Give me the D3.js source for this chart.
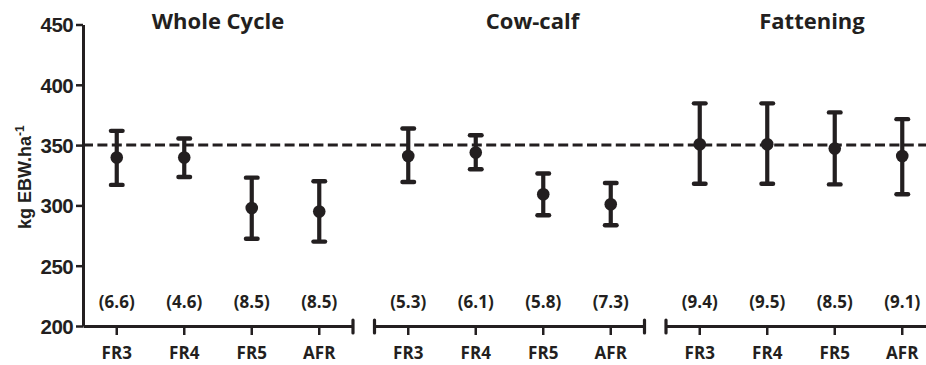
<!DOCTYPE html>
<html>
<head>
<meta charset="utf-8">
<title>kg EBW per ha by phase</title>
<style>
  body { margin: 0; background: #fff; }
  .num { font-family: "Liberation Sans", Arial, sans-serif; font-weight: bold; fill: #231f20; }
  .lab { font-family: "Open Sans", "Noto Sans", sans-serif; font-weight: bold; fill: #231f20; }
</style>
</head>
<body>
<script src="https://cdn.jsdelivr.net/npm/d3@7/dist/d3.min.js"></script>
<script>
// data
var groups = ["Whole Cycle", "Cow-calf", "Fattening"];
var categories = ["FR3", "FR4", "FR5", "AFR"];
var means = [
  [339.7, 339.7, 297.8, 295.0],
  [341.0, 343.8, 309.2, 300.9],
  [350.7, 350.7, 347.2, 341.0]
];
var upper = [
  [361.8, 355.5, 323.0, 320.0],
  [363.8, 358.2, 326.4, 318.6],
  [384.6, 384.6, 377.1, 371.5]
];
var lower = [
  [317.0, 323.6, 272.4, 270.0],
  [319.4, 330.0, 291.8, 283.5],
  [318.0, 318.0, 317.4, 309.2]
];
var cv = [
  [6.6, 4.6, 8.5, 8.5],
  [5.3, 6.1, 5.8, 7.3],
  [9.4, 9.5, 8.5, 9.1]
];
var yTicks = [200, 250, 300, 350, 400, 450];
var refValue = 350;

var W = 926, H = 365;
var margin = { left: 83, top: 24.5, bottom: 326 };
var ink = "#231f20";

var svg = d3.select("body").append("svg")
  .attr("width", W)
  .attr("height", H);

var y = d3.scaleLinear().domain([200, 450]).range([margin.bottom, margin.top]);

// three axis segments, 270px each with a small gap
var xg = d3.scaleBand().domain(groups).range([margin.left, 936])
  .paddingInner(21.5 / 291.5).paddingOuter(0);
var xc = d3.scaleBand().domain(categories).range([0, xg.bandwidth()]).padding(0);

function cx(g, c) { return xg(g) + xc(c) + xc.bandwidth() / 2; }

// flatten to rows
var rows = [];
groups.forEach(function (g, gi) {
  categories.forEach(function (c, ci) {
    rows.push({ g: g, c: c, m: means[gi][ci], hi: upper[gi][ci], lo: lower[gi][ci], cv: cv[gi][ci] });
  });
});

// y axis
var yAxis = svg.append("g")
  .attr("transform", "translate(" + margin.left + ",0)")
  .call(d3.axisLeft(y).tickValues(yTicks).tickSize(7).tickPadding(3).tickSizeOuter(0));
yAxis.select(".domain").attr("stroke", ink).attr("stroke-width", 3);
yAxis.selectAll(".tick line").attr("stroke", ink).attr("stroke-width", 2.5);
yAxis.selectAll(".tick text")
  .attr("class", "num")
  .style("font-size", "20.5px")
  .style("letter-spacing", "-0.6px")
  .attr("dy", "0.36em");

// y label
svg.append("text")
  .attr("class", "num")
  .attr("transform", "translate(31,229) rotate(-90)")
  .style("font-size", "18px")
  .html('kg EBW.ha<tspan dy="-7" style="font-size:12px">-1</tspan>');

// x axis segments
groups.forEach(function (g) {
  var ax = svg.append("g").attr("transform", "translate(" + xg(g) + "," + margin.bottom + ")");
  ax.call(d3.axisBottom(xc).tickSize(9).tickSizeOuter(0).tickFormat(""));
  ax.select(".domain").attr("stroke", ink).attr("stroke-width", 3);
  ax.selectAll(".tick line").attr("stroke", ink).attr("stroke-width", 2.5);
  if (g !== groups[0]) {
    ax.append("line").attr("x1", 0).attr("x2", 0).attr("y1", -6).attr("y2", 7)
      .attr("stroke", ink).attr("stroke-width", 3.2).attr("stroke-linecap", "round");
  }
  if (g !== groups[groups.length - 1]) {
    ax.append("line").attr("x1", xg.bandwidth()).attr("x2", xg.bandwidth()).attr("y1", -6).attr("y2", 7)
      .attr("stroke", ink).attr("stroke-width", 3.2).attr("stroke-linecap", "round");
  }
});

// category labels
svg.selectAll(".catlab").data(rows).enter().append("text")
  .attr("class", "lab")
  .attr("x", function (d) { return cx(d.g, d.c); })
  .attr("y", 359)
  .attr("text-anchor", "middle")
  .style("font-size", "17px")
  .text(function (d) { return d.c; });

// cv labels
svg.selectAll(".cvlab").data(rows).enter().append("text")
  .attr("class", "lab")
  .attr("x", function (d) { return cx(d.g, d.c); })
  .attr("y", 308)
  .attr("text-anchor", "middle")
  .style("font-size", "17px")
  .text(function (d) { return "(" + d.cv.toFixed(1) + ")"; });

// titles
var titleShift = [0, 23, 11];
svg.selectAll(".title").data(groups).enter().append("text")
  .attr("class", "lab")
  .attr("x", function (g, i) { return xg(g) + xg.bandwidth() / 2 + titleShift[i]; })
  .attr("y", 28.5)
  .attr("text-anchor", "middle")
  .style("font-size", "22px")
  .text(function (g) { return g; });

// reference line
svg.append("line")
  .attr("x1", margin.left).attr("x2", W)
  .attr("y1", y(refValue)).attr("y2", y(refValue))
  .attr("stroke", ink).attr("stroke-width", 3)
  .attr("stroke-dasharray", "10,4.4");

// error bars
var eb = svg.selectAll(".eb").data(rows).enter().append("g");
eb.append("line")
  .attr("x1", function (d) { return cx(d.g, d.c); })
  .attr("x2", function (d) { return cx(d.g, d.c); })
  .attr("y1", function (d) { return y(d.hi); })
  .attr("y2", function (d) { return y(d.lo); })
  .attr("stroke", ink).attr("stroke-width", 4.2);
["hi", "lo"].forEach(function (k) {
  eb.append("line")
    .attr("x1", function (d) { return cx(d.g, d.c) - 5.8; })
    .attr("x2", function (d) { return cx(d.g, d.c) + 5.8; })
    .attr("y1", function (d) { return y(d[k]); })
    .attr("y2", function (d) { return y(d[k]); })
    .attr("stroke", ink).attr("stroke-width", 4.4).attr("stroke-linecap", "round");
});
eb.append("circle")
  .attr("cx", function (d) { return cx(d.g, d.c); })
  .attr("cy", function (d) { return y(d.m); })
  .attr("r", 6.3)
  .attr("fill", ink);
</script>
</body>
</html>
